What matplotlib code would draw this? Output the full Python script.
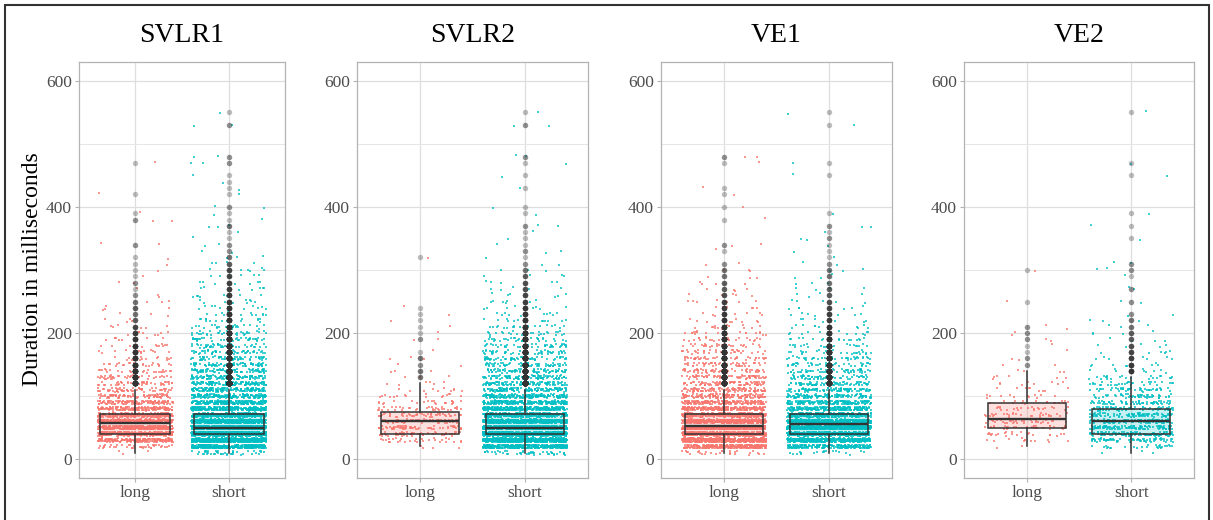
import numpy as np
import matplotlib
matplotlib.use("Agg")
import matplotlib.pyplot as plt
from matplotlib.colors import to_rgb
from matplotlib.patches import Rectangle

plt.rcParams['font.family'] = ['Liberation Serif', 'DejaVu Serif']

# panels and categories
panels = ['SVLR1', 'SVLR2', 'VE1', 'VE2']
groups = ['long', 'short']
group_colors = ['#F8766D', '#00BFC4']

# durations are recorded in 10 ms steps; counts per step (10 .. 550 ms)
durations = np.arange(10, 560, 10)

svlr1_long = [3, 40, 180, 300, 330, 310, 230, 160, 120, 85,
              60, 45, 38, 28, 22, 16, 13, 12, 10, 8,
              6, 4, 3, 4, 3, 2, 1, 2, 1, 1,
              1, 1, 0, 2, 0, 0, 0, 2, 1, 0,
              0, 1, 0, 0, 0, 0, 1, 0, 0, 0,
              0, 0, 0, 0, 0]
svlr1_short = [45, 380, 680, 750, 630, 500, 380, 290, 230, 180,
               150, 120, 105, 90, 70, 60, 52, 45, 40, 32,
               22, 15, 12, 11, 9, 8, 7, 7, 6, 6,
               4, 3, 2, 2, 1, 1, 3, 1, 1, 2,
               0, 1, 1, 1, 1, 0, 2, 2, 0, 0,
               0, 0, 2, 0, 1]
svlr2_long = [0, 4, 30, 55, 65, 60, 50, 35, 22, 16,
              10, 6, 3, 3, 2, 3, 1, 0, 2, 1,
              1, 1, 1, 1, 0, 0, 0, 0, 0, 0,
              0, 1, 0, 0, 0, 0, 0, 0, 0, 0,
              0, 0, 0, 0, 0, 0, 0, 0, 0, 0,
              0, 0, 0, 0, 0]
svlr2_short = [45, 390, 720, 780, 650, 500, 380, 290, 225, 180,
               140, 110, 95, 80, 65, 55, 48, 40, 32, 26,
               18, 13, 10, 9, 7, 6, 5, 5, 4, 3,
               2, 1, 2, 1, 1, 1, 2, 0, 1, 1,
               0, 0, 1, 0, 1, 0, 1, 2, 0, 0,
               0, 0, 2, 0, 1]
ve1_long = [28, 280, 530, 600, 530, 420, 320, 240, 180, 140,
            110, 85, 70, 58, 48, 40, 34, 28, 23, 19,
            14, 11, 8, 7, 7, 5, 4, 4, 3, 3,
            2, 0, 1, 2, 0, 0, 0, 1, 0, 1,
            0, 1, 1, 0, 0, 0, 1, 2, 0, 0,
            0, 0, 0, 0, 0]
ve1_short = [20, 210, 420, 500, 490, 420, 320, 225, 170, 125,
             98, 77, 63, 53, 42, 35, 28, 22, 18, 14,
             11, 8, 7, 6, 5, 4, 4, 3, 3, 3,
             2, 1, 1, 1, 2, 1, 2, 0, 1, 0,
             0, 0, 0, 0, 1, 0, 1, 0, 0, 0,
             0, 0, 1, 0, 1]
ve2_long = [0, 2, 12, 22, 30, 32, 28, 22, 17, 12,
            9, 8, 6, 4, 2, 2, 1, 1, 2, 2,
            2, 0, 0, 0, 1, 0, 0, 0, 0, 1,
            0, 0, 0, 0, 0, 0, 0, 0, 0, 0,
            0, 0, 0, 0, 0, 0, 0, 0, 0, 0,
            0, 0, 0, 0, 0]
ve2_short = [3, 26, 70, 105, 115, 105, 92, 78, 64, 52,
             42, 32, 22, 10, 8, 7, 6, 5, 4, 4,
             3, 3, 2, 0, 2, 0, 2, 0, 1, 2,
             2, 0, 0, 0, 1, 0, 1, 0, 1, 0,
             0, 0, 0, 0, 1, 0, 1, 0, 0, 0,
             0, 0, 0, 0, 1]

counts = [[svlr1_long, svlr1_short],
          [svlr2_long, svlr2_short],
          [ve1_long, ve1_short],
          [ve2_long, ve2_short]]

# box hinges (long, short) per panel
box_q1 = [[40, 40], [40, 40], [40, 40], [50, 40]]
box_med = [[58, 50], [60, 50], [52, 55], [63, 60]]
box_q3 = [[71, 71], [75, 71], [71, 71], [89, 79]]


def jitter(n, seed):
    # deterministic hash in [0, 1) used only for point offsets
    k = np.arange(n, dtype=float)
    v = np.sin(k * 12.9898 + seed * 78.233) * 43758.5453
    return v - np.floor(v)


W, H = 1213, 520
fig = plt.figure(figsize=(W / 100, H / 100), dpi=100)

# axes extents in pixels: (left, right), shared top/bottom
ax_px = [(79, 285), (357, 588), (661, 892), (964, 1194)]
top_px, bot_px = 62, 478

for p, name in enumerate(panels):
    l, r = ax_px[p]
    ax = fig.add_axes([l / W, 1 - bot_px / H, (r - l) / W, (bot_px - top_px) / H])
    ax.set_axisbelow(True)
    for g, grp in enumerate(groups):
        pos = g + 1
        vals = np.repeat(durations, counts[p][g]).astype(float)
        jx = jitter(len(vals), 2 * p + g + 1.3)
        jy = jitter(len(vals), 2 * p + g + 7.7)
        ax.scatter(pos + (jx - 0.5) * 0.8, vals + (jy - 0.5) * 6.0,
                   s=3.8, marker='s', color=group_colors[g], alpha=0.75,
                   linewidths=0, zorder=2, rasterized=True)

        q1, med, q3 = box_q1[p][g], box_med[p][g], box_q3[p][g]
        iqr = q3 - q1
        inside = vals[(vals >= q1 - 1.5 * iqr) & (vals <= q3 + 1.5 * iqr)]
        fliers = vals[(vals < q1 - 1.5 * iqr) | (vals > q3 + 1.5 * iqr)]
        stats = dict(med=med, q1=q1, q3=q3, whislo=inside.min(),
                     whishi=inside.max(), fliers=fliers)
        ax.bxp([stats], positions=[pos], widths=0.75, patch_artist=True,
               showcaps=False, zorder=3,
               boxprops=dict(facecolor=to_rgb(group_colors[g]) + (0.22,),
                             edgecolor='#333333', linewidth=1.1),
               medianprops=dict(color='#333333', linewidth=1.7),
               whiskerprops=dict(color='#333333', linewidth=1.1),
               flierprops=dict(marker='o', markersize=3.9,
                               markerfacecolor=(0.2, 0.2, 0.2, 0.32),
                               markeredgecolor='none'))

    ax.set_xlim(0.4, 2.6)
    ax.set_ylim(-30, 630)
    ax.set_xticks([1, 2])
    ax.set_xticklabels(groups)
    ax.set_yticks([0, 200, 400, 600])
    ax.set_yticklabels(['0', '200', '400', '600'])
    ax.set_yticks([100, 300, 500], minor=True)
    ax.grid(which='major', color='#DEDEDE', linewidth=0.9)
    ax.grid(which='minor', axis='y', color='#E6E6E6', linewidth=0.7)
    ax.tick_params(which='major', length=3, width=0.8, color='#B3B3B3',
                   labelcolor='#4D4D4D', labelsize=12.5, pad=2)
    ax.tick_params(which='minor', length=0)
    for sp in ax.spines.values():
        sp.set_color('#B3B3B3')
        sp.set_linewidth(0.9)

    fig.text((l + r) / 2 / W, 1 - 35 / H, name, ha='center', va='center',
             fontsize=20, color='black')

fig.text(33 / W, 1 - 269 / H, 'Duration in milliseconds', rotation=90,
         ha='center', va='center', fontsize=17, color='black')

# outer frame
fig.patches.append(Rectangle((5 / W, -0.1), (1209 - 5) / W, 1.1 - 5 / H,
                             transform=fig.transFigure, fill=False,
                             edgecolor='#333333', linewidth=1.5))

fig.savefig('out.png', dpi=100)
